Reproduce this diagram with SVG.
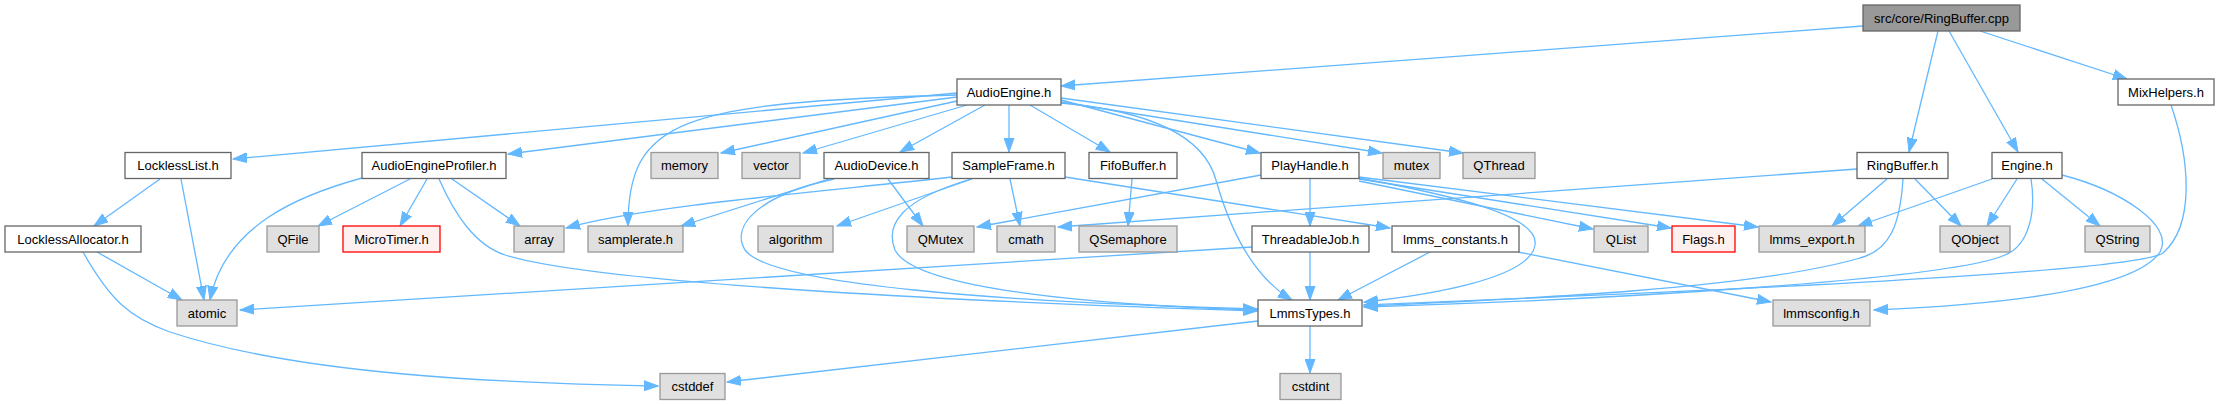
<svg xmlns="http://www.w3.org/2000/svg" width="2219" height="405" viewBox="0 0 2219 405">
<style>
rect{stroke-width:1.3}
.w rect{fill:#ffffff;stroke:#666666}
.g rect{fill:#e0e0e0;stroke:#999999}
.r rect{fill:#fff0f0;stroke:#ff0000}
.root rect{fill:#999999;stroke:#666666}
text{font-family:"Liberation Sans",Arial,sans-serif;font-size:13px;fill:#000;text-anchor:middle}
#edges path{fill:none;stroke:#63b8ff;stroke-width:1.3;marker-end:url(#arr)}
</style>
<defs>
<marker id="arr" markerUnits="userSpaceOnUse" markerWidth="15" markerHeight="11" refX="14" refY="5.5" orient="auto" viewBox="0 0 15 11">
<path d="M0,0.5 L14,5.5 L0,10.5 z" fill="#63b8ff" stroke="#63b8ff" stroke-width="1"/>
</marker>
</defs>
<rect width="2219" height="405" fill="#ffffff"/>
<g id="edges">
<path d="M1863,26 L1061,86"/>
<path d="M1938,31 L1909,152"/>
<path d="M1949,31 L2018,152"/>
<path d="M1980,31 L2127,79"/>
<path d="M957,93 L233,159"/>
<path d="M957,97 L508,154"/>
<path d="M957,95 C 680,102 628,120 628,226"/>
<path d="M957,101 L721,153"/>
<path d="M967,105 L803,153"/>
<path d="M985,105 L900,152"/>
<path d="M1009,105 L1009,152"/>
<path d="M1030,105 L1110,152"/>
<path d="M1061,100 L1260,153"/>
<path d="M1061,102 L1382,153"/>
<path d="M1061,98 L1463,153"/>
<path d="M1061,103 C 1160,112 1205,140 1216,180 C 1230,230 1252,276 1292,300"/>
<path d="M160,179 L94,226"/>
<path d="M181,179 L204,300"/>
<path d="M97,252 L182,300"/>
<path d="M83,252 C 110,300 130,318 170,332 C 300,375 500,383 658,386"/>
<path d="M362,178 C 300,195 225,225 210,300"/>
<path d="M410,179 L318,226"/>
<path d="M427,179 L400,226"/>
<path d="M452,179 L520,226"/>
<path d="M439,179 C 455,215 475,245 505,255 C 600,285 1000,303 1257,311"/>
<path d="M829,179 L681,226"/>
<path d="M888,179 L923,226"/>
<path d="M834,179 C 760,195 730,225 745,250 C 770,285 1000,302 1257,309"/>
<path d="M952,177 C 820,192 650,205 566,228"/>
<path d="M972,179 L837,226"/>
<path d="M1010,179 L1020,226"/>
<path d="M971,179 C 900,200 885,225 895,250 C 915,290 1100,305 1257,310"/>
<path d="M1065,177 L1390,228"/>
<path d="M1132,179 L1128,226"/>
<path d="M1261,175 L977,227"/>
<path d="M1310,179 L1310,226"/>
<path d="M1359,178 C 1450,195 1540,215 1535,245 C 1530,280 1420,296 1364,302"/>
<path d="M1359,181 L1593,229"/>
<path d="M1359,179 L1671,228"/>
<path d="M1359,177 L1758,227"/>
<path d="M1857,169 L1058,227"/>
<path d="M1887,179 L1832,226"/>
<path d="M1915,179 L1961,226"/>
<path d="M1903,179 C 1900,225 1890,250 1860,258 C 1750,290 1500,300 1364,306"/>
<path d="M1992,179 L1858,226"/>
<path d="M2017,179 L1987,226"/>
<path d="M2042,179 L2100,226"/>
<path d="M2031,179 C 2036,210 2030,245 2005,255 C 1950,280 1600,300 1364,307"/>
<path d="M2062,175 C 2120,190 2175,225 2160,252 C 2135,290 2000,305 1874,310"/>
<path d="M2171,105 C 2190,160 2195,225 2163,253 C 2130,275 1600,295 1364,305"/>
<path d="M1252,247 L240,310"/>
<path d="M1310,252 L1310,300"/>
<path d="M1430,252 L1338,300"/>
<path d="M1518,252 L1771,302"/>
<path d="M1258,321 L727,382"/>
<path d="M1310,326 L1310,373"/>
</g>
<g id="n_root" class="root"><rect x="1863" y="5" width="157" height="26"/><text x="1941.5" y="22.5">src/core/RingBuffer.cpp</text></g>
<g id="n_AudioEngine" class="w"><rect x="957" y="79" width="104" height="26"/><text x="1009" y="96.5">AudioEngine.h</text></g>
<g id="n_MixHelpers" class="w"><rect x="2118" y="79" width="96" height="26"/><text x="2166" y="96.5">MixHelpers.h</text></g>
<g id="n_LocklessList" class="w"><rect x="125" y="152.5" width="106" height="26"/><text x="178" y="170">LocklessList.h</text></g>
<g id="n_AudioEngineProfiler" class="w"><rect x="362" y="152.5" width="144" height="26"/><text x="434" y="170">AudioEngineProfiler.h</text></g>
<g id="n_memory" class="g"><rect x="651" y="152.5" width="67" height="26"/><text x="684.5" y="170">memory</text></g>
<g id="n_vector" class="g"><rect x="742" y="152.5" width="58" height="26"/><text x="771" y="170">vector</text></g>
<g id="n_AudioDevice" class="w"><rect x="824" y="152.5" width="105" height="26"/><text x="876.5" y="170">AudioDevice.h</text></g>
<g id="n_SampleFrame" class="w"><rect x="952" y="152.5" width="113" height="26"/><text x="1008.5" y="170">SampleFrame.h</text></g>
<g id="n_FifoBuffer" class="w"><rect x="1089" y="152.5" width="88" height="26"/><text x="1133" y="170">FifoBuffer.h</text></g>
<g id="n_PlayHandle" class="w"><rect x="1261" y="152.5" width="98" height="26"/><text x="1310" y="170">PlayHandle.h</text></g>
<g id="n_mutex" class="g"><rect x="1383" y="152.5" width="57" height="26"/><text x="1411.5" y="170">mutex</text></g>
<g id="n_QThread" class="g"><rect x="1463" y="152.5" width="72" height="26"/><text x="1499" y="170">QThread</text></g>
<g id="n_RingBuffer" class="w"><rect x="1857" y="152.5" width="91" height="26"/><text x="1902.5" y="170">RingBuffer.h</text></g>
<g id="n_Engine" class="w"><rect x="1992" y="152.5" width="70" height="26"/><text x="2027" y="170">Engine.h</text></g>
<g id="n_LocklessAllocator" class="w"><rect x="5" y="226" width="136" height="26"/><text x="73" y="243.5">LocklessAllocator.h</text></g>
<g id="n_QFile" class="g"><rect x="267" y="226" width="52" height="26"/><text x="293" y="243.5">QFile</text></g>
<g id="n_MicroTimer" class="r"><rect x="343" y="226" width="97" height="26"/><text x="391.5" y="243.5">MicroTimer.h</text></g>
<g id="n_array" class="g"><rect x="514" y="226" width="50" height="26"/><text x="539" y="243.5">array</text></g>
<g id="n_samplerate" class="g"><rect x="588" y="226" width="95" height="26"/><text x="635.5" y="243.5">samplerate.h</text></g>
<g id="n_algorithm" class="g"><rect x="758" y="226" width="75" height="26"/><text x="795.5" y="243.5">algorithm</text></g>
<g id="n_QMutex" class="g"><rect x="907" y="226" width="67" height="26"/><text x="940.5" y="243.5">QMutex</text></g>
<g id="n_cmath" class="g"><rect x="997" y="226" width="58" height="26"/><text x="1026" y="243.5">cmath</text></g>
<g id="n_QSemaphore" class="g"><rect x="1079" y="226" width="98" height="26"/><text x="1128" y="243.5">QSemaphore</text></g>
<g id="n_ThreadableJob" class="w"><rect x="1252" y="226" width="117" height="26"/><text x="1310.5" y="243.5">ThreadableJob.h</text></g>
<g id="n_lmms_constants" class="w"><rect x="1392" y="226" width="127" height="26"/><text x="1455.5" y="243.5">lmms_constants.h</text></g>
<g id="n_QList" class="g"><rect x="1594" y="226" width="54" height="26"/><text x="1621" y="243.5">QList</text></g>
<g id="n_Flags" class="r"><rect x="1672" y="226" width="63" height="26"/><text x="1703.5" y="243.5">Flags.h</text></g>
<g id="n_lmms_export" class="g"><rect x="1759" y="226" width="106" height="26"/><text x="1812" y="243.5">lmms_export.h</text></g>
<g id="n_QObject" class="g"><rect x="1940" y="226" width="70" height="26"/><text x="1975" y="243.5">QObject</text></g>
<g id="n_QString" class="g"><rect x="2085" y="226" width="65" height="26"/><text x="2117.5" y="243.5">QString</text></g>
<g id="n_atomic" class="g"><rect x="177" y="300" width="60" height="26"/><text x="207" y="317.5">atomic</text></g>
<g id="n_LmmsTypes" class="w"><rect x="1258" y="300" width="104" height="26"/><text x="1310" y="317.5">LmmsTypes.h</text></g>
<g id="n_lmmsconfig" class="g"><rect x="1773" y="300" width="97" height="26"/><text x="1821.5" y="317.5">lmmsconfig.h</text></g>
<g id="n_cstddef" class="g"><rect x="660" y="373.5" width="65" height="26"/><text x="692.5" y="391">cstddef</text></g>
<g id="n_cstdint" class="g"><rect x="1280" y="373.5" width="61" height="26"/><text x="1310.5" y="391">cstdint</text></g>
</svg>
